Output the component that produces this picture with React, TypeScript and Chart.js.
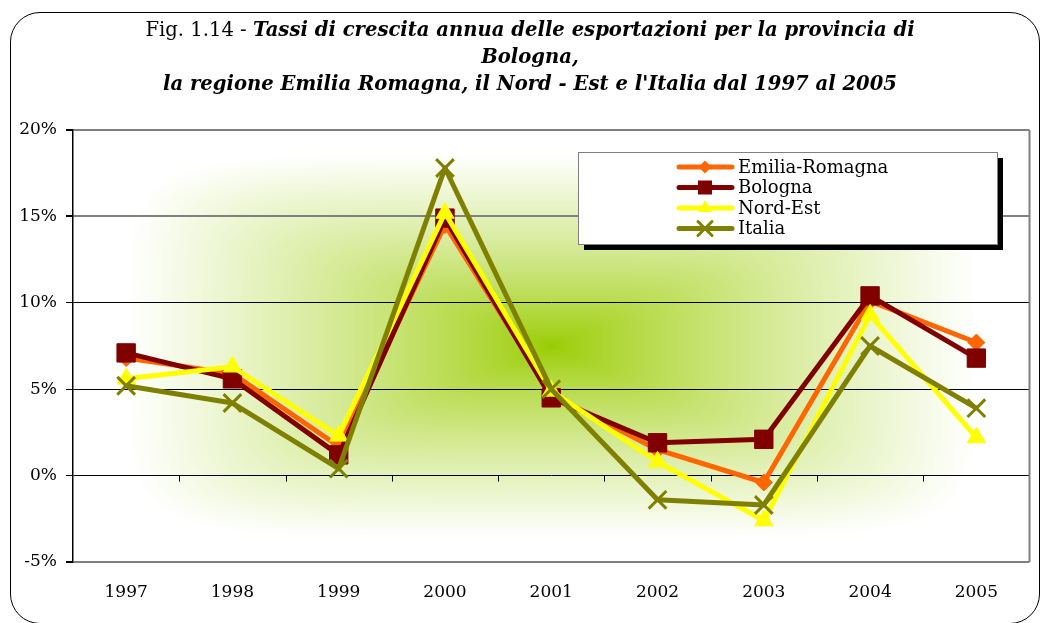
import React, { useEffect, useRef } from "react";
import { Chart, registerables } from "chart.js";

Chart.register(...registerables);

const categories = ["1997", "1998", "1999", "2000", "2001", "2002", "2003", "2004", "2005"];
const emiliaRomagna = [6.8, 5.9, 1.7, 14.5, 4.7, 1.5, -0.4, 10.1, 7.7];
const bologna = [7.1, 5.6, 1.2, 14.9, 4.5, 1.9, 2.1, 10.4, 6.8];
const nordEst = [5.6, 6.3, 2.3, 15.2, 4.9, 0.8, -2.6, 9.3, 2.2];
const italia = [5.2, 4.2, 0.4, 17.8, 5.0, -1.4, -1.7, 7.5, 3.9];
const seriesNames = ["Emilia-Romagna", "Bologna", "Nord-Est", "Italia"];
const yTicks = [-5, 0, 5, 10, 15, 20];

const COLORS = ["#FF6600", "#800000", "#FFFF00", "#808000"];
const STYLES = ["rectRot", "rect", "triangle", "crossRot"];
const SERIF = '"DejaVu Serif"';

function drawMarker(ctx: CanvasRenderingContext2D, style: string, x: number, y: number, color: string) {
  ctx.save();
  ctx.fillStyle = color;
  ctx.strokeStyle = color;
  ctx.beginPath();
  if (style === "rectRot") {
    const r = 6.5;
    ctx.moveTo(x, y - r);
    ctx.lineTo(x + r, y);
    ctx.lineTo(x, y + r);
    ctx.lineTo(x - r, y);
    ctx.closePath();
    ctx.fill();
  } else if (style === "rect") {
    const s = 7;
    ctx.rect(x - s, y - s, 2 * s, 2 * s);
    ctx.fill();
  } else if (style === "triangle") {
    const r = 8;
    ctx.moveTo(x, y - r);
    ctx.lineTo(x + r * 0.866, y + r * 0.5);
    ctx.lineTo(x - r * 0.866, y + r * 0.5);
    ctx.closePath();
    ctx.fill();
  } else {
    const r = 7;
    ctx.lineWidth = 3;
    ctx.moveTo(x - r, y - r);
    ctx.lineTo(x + r, y + r);
    ctx.moveTo(x + r, y - r);
    ctx.lineTo(x - r, y + r);
    ctx.stroke();
  }
  ctx.restore();
}

let bgCache: HTMLCanvasElement | null = null;
let bgKey = "";

function makeBackground(w: number, h: number) {
  const c = document.createElement("canvas");
  c.width = w;
  c.height = h;
  const cctx = c.getContext("2d") as CanvasRenderingContext2D;
  const img = cctx.createImageData(w, h);
  const cx = w / 2;
  const cy = h / 2;
  const p = 6;
  for (let j = 0; j < h; j++) {
    const dy = Math.abs(j + 0.5 - cy) / cy;
    for (let i = 0; i < w; i++) {
      const dx = Math.abs(i + 0.5 - cx) / cx;
      const t = Math.pow(Math.pow(dx, p) + Math.pow(dy, p), 1 / p);
      let s = 1.1 * Math.pow(Math.min(t, 1), 0.8);
      if (s > 1) s = 1;
      const k = (j * w + i) * 4;
      img.data[k] = 153 + (255 - 153) * s;
      img.data[k + 1] = 204 + (255 - 204) * s;
      img.data[k + 2] = 0 + 255 * s;
      img.data[k + 3] = 255;
    }
  }
  cctx.putImageData(img, 0, 0);
  return c;
}

const decorPlugin = {
  id: "decor",
  beforeDraw(chart: any) {
    const { ctx, chartArea } = chart;
    const { left, top, right, bottom } = chartArea;
    const w = Math.round(right - left);
    const h = Math.round(bottom - top);
    const key = `${w}x${h}`;
    if (!bgCache || bgKey !== key) {
      bgCache = makeBackground(w, h);
      bgKey = key;
    }
    ctx.save();
    ctx.drawImage(bgCache, left, top);
    ctx.restore();
  },
  afterDraw(chart: any) {
    const { ctx, chartArea, scales } = chart;
    const { left, top, right, bottom } = chartArea;
    ctx.save();
    ctx.strokeStyle = "#808080";
    ctx.lineWidth = 2;
    ctx.beginPath();
    ctx.moveTo(right, top);
    ctx.lineTo(right, bottom);
    ctx.stroke();
    const y0 = scales.y.getPixelForValue(0);
    const step = (right - left) / categories.length;
    ctx.strokeStyle = "#000";
    ctx.lineWidth = 1;
    for (let k = 1; k < categories.length; k++) {
      const x = Math.round(left + k * step) + 0.5;
      ctx.beginPath();
      ctx.moveTo(x, y0);
      ctx.lineTo(x, y0 + 6);
      ctx.stroke();
    }
    const bx = 578, by = 152, bw = 419, bh = 92;
    ctx.fillStyle = "#000";
    ctx.fillRect(bx + 6, by + 6, bw, bh);
    ctx.fillStyle = "#fff";
    ctx.fillRect(bx, by, bw, bh);
    ctx.strokeStyle = "#808080";
    ctx.lineWidth = 1;
    ctx.strokeRect(bx + 0.5, by + 0.5, bw, bh);
    ctx.font = `18px ${SERIF}`;
    ctx.textBaseline = "middle";
    ctx.textAlign = "left";
    seriesNames.forEach((name, i) => {
      const yy = 167 + i * 20.5;
      ctx.strokeStyle = COLORS[i];
      ctx.lineWidth = 5;
      ctx.lineCap = "round";
      ctx.beginPath();
      ctx.moveTo(679, yy);
      ctx.lineTo(732, yy);
      ctx.stroke();
      drawMarker(ctx, STYLES[i], 705, yy, COLORS[i]);
      ctx.fillStyle = "#000";
      ctx.fillText(name, 738, yy + 1);
    });
    ctx.restore();
  },
};

export default function App() {
  const ref = useRef<HTMLCanvasElement | null>(null);
  useEffect(() => {
    if (!ref.current) return;
    let chart: any = null;
    let cancelled = false;
    const mk = (label: string, data: number[], i: number, radius: number, order: number) => ({
      label,
      data,
      borderColor: COLORS[i],
      backgroundColor: COLORS[i],
      borderWidth: 5,
      borderJoinStyle: "round" as const,
      pointStyle: STYLES[i],
      pointRadius: radius,
      pointBorderWidth: i === 3 ? 3 : 1,
      pointBackgroundColor: COLORS[i],
      pointBorderColor: COLORS[i],
      tension: 0,
      order,
    });
    const build = () => {
      if (cancelled || !ref.current) return;
      chart = new Chart(ref.current, {
        type: "line",
        data: {
          labels: categories,
          datasets: [
            mk(seriesNames[0], emiliaRomagna, 0, 8.5, 3),
            mk(seriesNames[1], bologna, 1, 13, 2),
            mk(seriesNames[2], nordEst, 2, 10.5, 1),
            mk(seriesNames[3], italia, 3, 12.5, 0),
          ],
        },
        options: {
          responsive: false,
          animation: false,
          devicePixelRatio: 1,
          layout: { padding: { top: 130, right: 15, left: 0, bottom: 0 } },
          plugins: { legend: { display: false }, tooltip: { enabled: false }, title: { display: false } },
          scales: {
            x: {
              type: "category",
              offset: true,
              grid: { display: false },
              border: { display: false },
              ticks: {
                color: "#000",
                padding: 12,
                maxRotation: 0,
                font: { family: SERIF, size: 17 },
              },
              afterFit: (s: any) => {
                s.height = 61;
              },
            },
            y: {
              min: -5,
              max: 20,
              afterBuildTicks: (s: any) => {
                s.ticks = yTicks.map((v) => ({ value: v }));
              },
              grid: {
                color: (c: any) => ([20, 15, -5].includes(c.tick?.value) ? "#808080" : "#000000"),
                lineWidth: (c: any) => ([20, 15, -5].includes(c.tick?.value) ? 2 : 1),
                tickColor: "#000",
                tickLength: 7,
              },
              border: { display: true, color: "#000", width: 1.5 },
              ticks: {
                color: "#000",
                padding: 9,
                font: { family: SERIF, size: 17 },
                callback: (v: any) => `${v}%`,
              },
              afterFit: (s: any) => {
                s.width = 73;
              },
            },
          },
        },
        plugins: [decorPlugin],
      });
    };
    const fonts: any = (document as any).fonts;
    if (fonts && fonts.load) {
      Promise.all([fonts.load(`17px ${SERIF}`), fonts.load(`18px ${SERIF}`)])
        .catch(() => null)
        .then(build);
    } else {
      build();
    }
    return () => {
      cancelled = true;
      if (chart) chart.destroy();
    };
  }, []);

  const bi: React.CSSProperties = { fontWeight: "bold", fontStyle: "italic" };
  return (
    <div style={{ position: "absolute", left: 0, top: 0, width: 1045, height: 623, overflow: "hidden", background: "#fff" }}>
      <canvas ref={ref} width={1045} height={623} style={{ position: "absolute", left: 0, top: 0, width: 1045, height: 623 }} />
      <div
        style={{
          position: "absolute",
          left: 10,
          top: 12,
          width: 1030,
          height: 612,
          border: "1.5px solid #000",
          borderRadius: 30,
          boxSizing: "border-box",
          pointerEvents: "none",
        }}
      />
      <div
        style={{
          position: "absolute",
          left: 0,
          top: 16,
          width: 1060,
          textAlign: "center",
          fontFamily: '"DejaVu Serif", serif',
          fontSize: 19.6,
          lineHeight: "27px",
          color: "#000",
        }}
      >
        <div>
          <span>Fig. 1.14 - </span>
          <span style={bi}>Tassi di crescita annua delle esportazioni per la provincia di</span>
        </div>
        <div style={bi}>Bologna,</div>
        <div style={bi}>la regione Emilia Romagna, il Nord - Est e l'Italia dal 1997 al 2005</div>
      </div>
    </div>
  );
}
